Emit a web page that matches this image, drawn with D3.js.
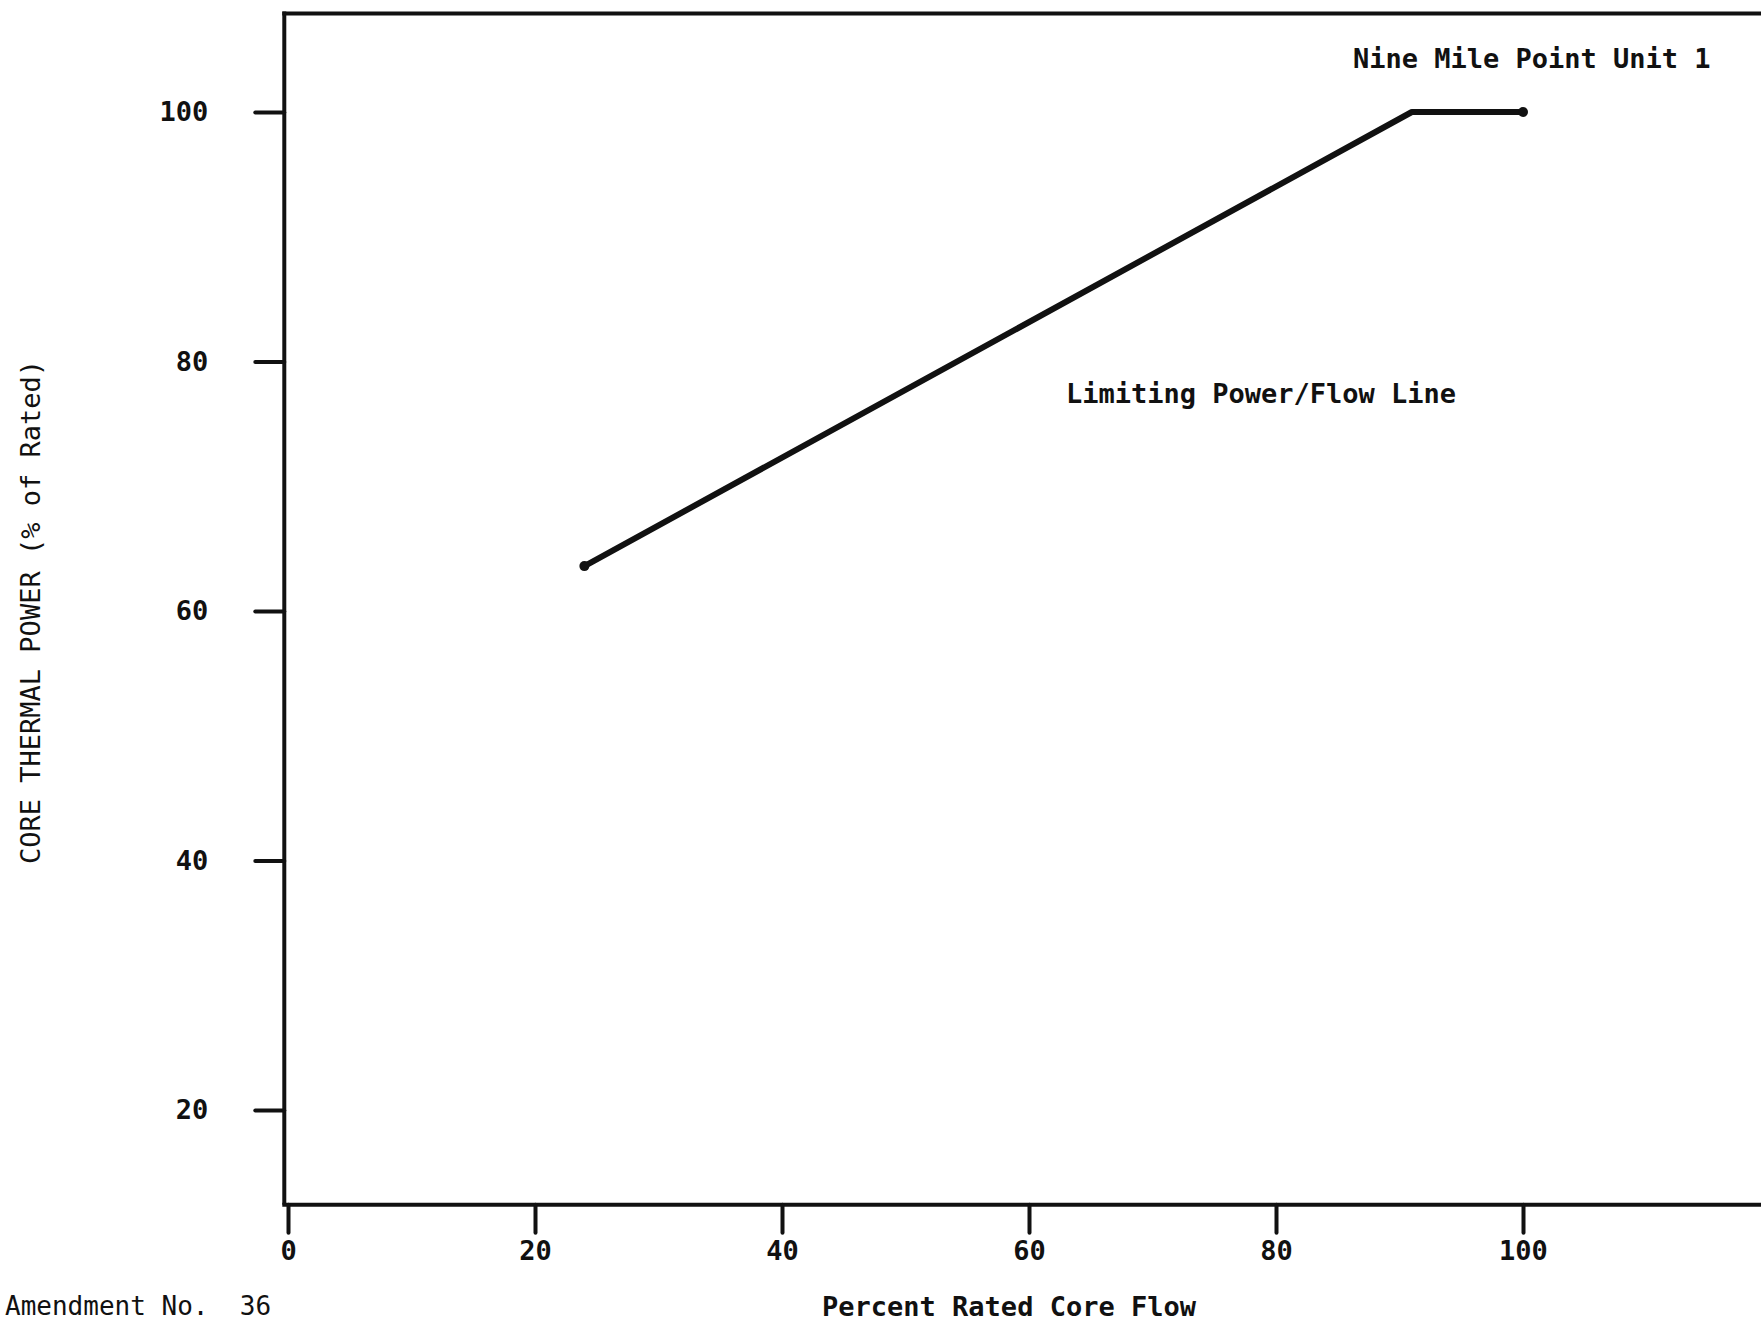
<!DOCTYPE html>
<html>
<head>
<meta charset="utf-8">
<script src="https://cdn.jsdelivr.net/npm/d3@7"></script>
<style>
  body { margin: 0; background: #fff; }
  text { font-family: "DejaVu Sans Mono", "Liberation Mono", monospace; fill: #111; }
</style>
</head>
<body>
<div id="body"></div>
<script>
// data
var flowPct = [24, 91, 100];
var powerPct = [63.6, 100, 100];
var xTicks = [0, 20, 40, 60, 80, 100];
var yTicks = [20, 40, 60, 80, 100];

var svgWidth = 1761;
var svgHeight = 1325;

var svg = d3.select("#body")
    .append("svg")
    .attr("width", svgWidth)
    .attr("height", svgHeight);

var x = d3.scaleLinear().domain([0, 100]).range([288, 1523]);
var y = d3.scaleLinear().domain([20, 100]).range([1110, 112]);

// frame edges (note: "top" is taken by window.top, so use other names)
var xMin = -0.3, yMin = 12.4, yMax = 107.9;
var frameLeft = x(xMin), frameBottom = y(yMin), frameTop = y(yMax);

svg.append("line")
    .attr("x1", frameLeft - 2).attr("x2", svgWidth + 10)
    .attr("y1", frameTop).attr("y2", frameTop)
    .attr("stroke", "#111").attr("stroke-width", 4);
svg.append("line")
    .attr("x1", frameLeft).attr("x2", frameLeft)
    .attr("y1", frameTop - 2).attr("y2", frameBottom)
    .attr("stroke", "#111").attr("stroke-width", 4);
svg.append("line")
    .attr("x1", frameLeft - 2).attr("x2", svgWidth + 10)
    .attr("y1", frameBottom).attr("y2", frameBottom)
    .attr("stroke", "#111").attr("stroke-width", 4);

// axes
var leftAxis = d3.axisLeft(y).tickValues(yTicks).tickSize(29).tickPadding(47).tickFormat(d3.format("d"));
var bottomAxis = d3.axisBottom(x).tickValues(xTicks).tickSize(28).tickPadding(6).tickFormat(d3.format("d"));

var gy = svg.append("g").attr("transform", `translate(${frameLeft},0)`).call(leftAxis);
var gx = svg.append("g").attr("transform", `translate(0,${frameBottom})`).call(bottomAxis);

[gx, gy].forEach(function(g) {
    g.select(".domain").remove();
    g.selectAll(".tick line").attr("stroke", "#111").attr("stroke-width", 4).attr("stroke-linecap", "round");
    g.selectAll(".tick text")
        .attr("font-size", 27)
        .attr("font-weight", "bold")
        .style("font-family", "'DejaVu Sans Mono', monospace")
        .attr("fill", "#111");
});
gx.selectAll(".tick text").attr("dy", "0.78em");

// limiting power/flow line
var pts = flowPct.map(function(d, i) { return [d, powerPct[i]]; });
var line = d3.line().x(function(d) { return x(d[0]); }).y(function(d) { return y(d[1]); });

svg.append("path")
    .datum(pts)
    .attr("d", line)
    .attr("fill", "none")
    .attr("stroke", "#111")
    .attr("stroke-width", 6)
    .attr("stroke-linejoin", "round")
    .attr("stroke-linecap", "round");

svg.selectAll(".endpt")
    .data([pts[0], pts[pts.length - 1]])
    .enter().append("circle")
    .attr("class", "endpt")
    .attr("cx", function(d) { return x(d[0]); })
    .attr("cy", function(d) { return y(d[1]); })
    .attr("r", 5)
    .attr("fill", "#111");

// labels
svg.append("text")
    .attr("x", 1353).attr("y", 68)
    .attr("font-size", 27).attr("font-weight", "bold")
    .text("Nine Mile Point Unit 1");

svg.append("text")
    .attr("x", 1066).attr("y", 403)
    .attr("font-size", 27).attr("font-weight", "bold")
    .text("Limiting Power/Flow Line");

svg.append("text")
    .attr("x", 1009).attr("y", 1316)
    .attr("text-anchor", "middle")
    .attr("font-size", 27).attr("font-weight", "bold")
    .text("Percent Rated Core Flow");

svg.append("text")
    .attr("transform", "translate(40,612) rotate(-90)")
    .attr("text-anchor", "middle")
    .attr("font-size", 27)
    .text("CORE THERMAL POWER (% of Rated)");

svg.append("text")
    .attr("x", 5).attr("y", 1315)
    .attr("font-size", 26)
    .attr("xml:space", "preserve")
    .text("Amendment No.  36");
</script>
</body>
</html>
